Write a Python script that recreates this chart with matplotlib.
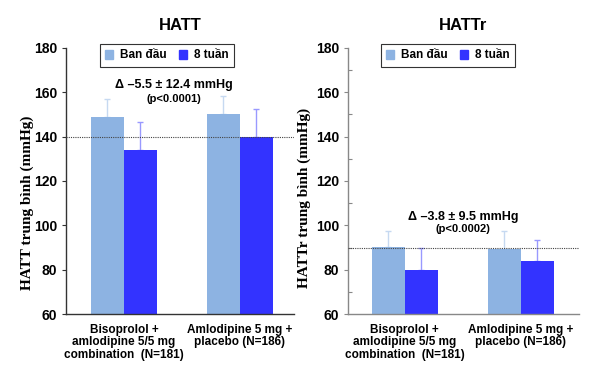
import numpy as np
import matplotlib.pyplot as plt
from matplotlib.ticker import MultipleLocator

plt.rcParams['font.family'] = ['Liberation Sans', 'DejaVu Sans']

groups = ['Bisoprolol +\namlodipine 5/5 mg\ncombination  (N=181)',
          'Amlodipine 5 mg +\nplacebo (N=186)']
series = ['Ban đầu', '8 tuần']

# HATT (systolic)
hatt_base = [148.8, 150.0]
hatt_base_err = [8.2, 8.5]
hatt_8w = [133.8, 140.0]
hatt_8w_err = [12.8, 12.6]

# HATTr (diastolic)
hattr_base = [90.1, 89.4]
hattr_base_err = [7.4, 8.1]
hattr_8w = [80.0, 83.8]
hattr_8w_err = [9.6, 9.6]

c_base = '#8db3e2'
c_8w = '#3333ff'
e_base = '#c6d9f1'
e_8w = '#9999ff'

fig = plt.figure(figsize=(5.96, 3.69), dpi=100)
ax1 = fig.add_axes([0.1107, 0.149, 0.3826, 0.721])
ax2 = fig.add_axes([0.584, 0.149, 0.387, 0.721])

panels = [
    (ax1, 'HATT', 'HATT trung bình (mmHg)', hatt_base, hatt_base_err, hatt_8w, hatt_8w_err,
     140, 'Δ –5.5 ± 12.4 mmHg', '(p<0.0001)', (174, 85, 99), 0.417, (-0.5, 1.466), '#333333', -0.14),
    (ax2, 'HATTr', 'HATTr trung bình (mmHg)', hattr_base, hattr_base_err, hattr_8w, hattr_8w_err,
     90, 'Δ –3.8 ± 9.5 mmHg', '(p<0.0002)', (463, 217, 229), 0.436, (-0.49, 1.5), '#888888', -0.16),
]

x = np.arange(len(groups))
w = 0.285
W, H = 596, 369

for (ax, title, ylab, b, be, e, ee, ref, delta, pval, tpos, ylpos, xl, spc, ylx) in panels:
    ax.bar(x - w / 2, b, w, color=c_base, zorder=2)
    ax.bar(x + w / 2, e, w, color=c_8w, zorder=2)
    ax.errorbar(x - w / 2, b, yerr=[np.zeros(2), be], fmt='none', ecolor=e_base,
                elinewidth=1, capsize=2, capthick=1, zorder=1)
    ax.errorbar(x + w / 2, e, yerr=[np.zeros(2), ee], fmt='none', ecolor=e_8w,
                elinewidth=1, capsize=2, capthick=1, zorder=1)
    ax.axhline(ref, color='#444444', linestyle=(0, (1, 1)), linewidth=0.8, zorder=3)

    ax.set_ylim(60, 180)
    ax.set_xlim(*xl)
    ax.set_yticks(np.arange(60, 181, 20))
    ax.set_xticks(x)
    ax.set_xticklabels(groups, fontsize=8.5, fontweight='bold', linespacing=1.05)
    ax.tick_params(axis='x', length=0, pad=7)
    ax.tick_params(axis='y', labelsize=10, direction='out', length=3, width=0.8, color=spc)
    for lab in ax.get_yticklabels():
        lab.set_fontweight('bold')
    for s in ['top', 'right']:
        ax.spines[s].set_visible(False)
    for s in ['left', 'bottom']:
        ax.spines[s].set_color(spc)
        ax.spines[s].set_linewidth(1)

    ax.set_title(title, fontsize=12, fontweight='bold', pad=13)
    ax.set_ylabel(ylab, fontsize=11, fontweight='bold', family='Liberation Serif')
    ax.yaxis.set_label_coords(ylx, ylpos)

    fig.text(tpos[0] / W, 1 - tpos[1] / H, delta, ha='center', va='center',
             fontsize=9, fontweight='bold')
    fig.text(tpos[0] / W, 1 - tpos[2] / H, pval, ha='center', va='center',
             fontsize=8, fontweight='bold')

ax2.yaxis.set_minor_locator(MultipleLocator(10))
ax2.tick_params(axis='y', which='minor', direction='in', length=3, width=0.8, color='#888888')

for ax, lx in [(ax1, 167), (ax2, 448)]:
    h = [plt.Rectangle((0, 0), 1, 1, color=c) for c in (c_base, c_8w)]
    ax.legend(h, series, loc='center', bbox_to_anchor=(lx / W, 1 - 55.5 / H),
              bbox_transform=fig.transFigure, ncol=2, frameon=True, fancybox=False,
              edgecolor='#333333', prop={'weight': 'bold', 'size': 8.5},
              handlelength=0.7, handleheight=0.7, handletextpad=0.6, columnspacing=1.0,
              borderpad=0.45, framealpha=1).get_frame().set_linewidth(0.8)

fig.savefig('out.png', dpi=100)
